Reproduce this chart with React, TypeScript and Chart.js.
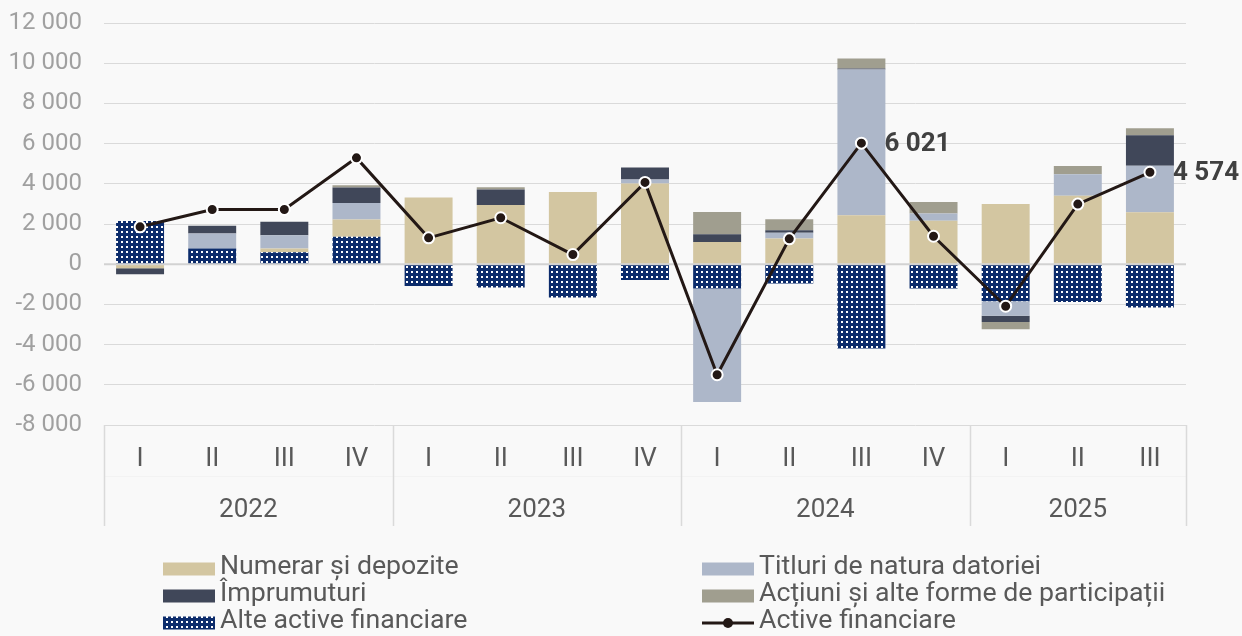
import React, { useEffect, useRef } from "react";
import { Chart, registerables } from "chart.js";

Chart.register(...registerables);

// ---- data ----
const quarters = ["I", "II", "III", "IV", "I", "II", "III", "IV", "I", "II", "III", "IV", "I", "II", "III"];
const years = ["2022", "2023", "2024", "2025"];
const quartersPerYear = [4, 4, 4, 3];

const alteActive = [2150, 780, 600, 1360, -1080, -1160, -1660, -780, -1210, -960, -4200, -1210, -1840, -1880, -2160];
const numerar = [-200, 0, 180, 860, 3320, 2940, 3590, 4020, 1110, 1280, 2440, 2160, 2990, 3400, 2590];
const titluri = [0, 750, 665, 830, 0, 0, 0, 200, -5650, 280, 7250, 360, -730, 1080, 2310];
const imprumuturi = [-300, 380, 665, 770, 0, 780, 0, 590, 380, 130, 50, 0, -300, 0, 1520];
const actiuni = [0, 0, 0, 110, 0, 110, 0, 0, 1110, 550, 500, 580, -370, 400, 340];
const activeFinanciare = [1860, 2720, 2720, 5290, 1310, 2310, 480, 4070, -5500, 1260, 6021, 1390, -2090, 2990, 4574];

const labeledPoints = [10, 14];
const yMin = -8000;
const yMax = 12000;
const yStep = 2000;

const seriesNames = {
  numerar: "Numerar și depozite",
  titluri: "Titluri de natura datoriei",
  imprumuturi: "Împrumuturi",
  actiuni: "Acțiuni și alte forme de participații",
  alte: "Alte active financiare",
  active: "Active financiare",
};
const legendOrder = [
  seriesNames.numerar,
  seriesNames.titluri,
  seriesNames.imprumuturi,
  seriesNames.actiuni,
  seriesNames.alte,
  seriesNames.active,
];

// ---- styles ----
const BG = "#f9f9f9";
const FONT = "Roboto, 'Noto Sans', sans-serif";
const C_NUMERAR = "#d3c6a1";
const C_TITLURI = "#adb7c9";
const C_IMPR = "#404759";
const C_ACT = "#a09e8f";
const C_NAVY = "#0c2c6c";
const C_LINE = "#231815";
const GRID = "#dadada";

const fmt = (v: number) => {
  const s = Math.abs(Math.round(v)).toString().replace(/\B(?=(\d{3})+(?!\d))/g, " ");
  return (v < 0 ? "-" : "") + s;
};

function makePattern(): CanvasPattern | string {
  const c = document.createElement("canvas");
  c.width = 5;
  c.height = 5;
  const g = c.getContext("2d");
  if (!g) return C_NAVY;
  g.fillStyle = C_NAVY;
  g.fillRect(0, 0, 5, 5);
  g.fillStyle = "#ffffff";
  g.fillRect(1, 1, 2, 2);
  const p = g.createPattern(c, "repeat");
  return p || C_NAVY;
}

export default function App() {
  const ref = useRef<HTMLCanvasElement | null>(null);

  useEffect(() => {
    if (!ref.current) return;
    const pattern = makePattern();

    const bgPlugin = {
      id: "bg",
      beforeDraw(chart: any) {
        const ctx = chart.ctx;
        ctx.save();
        ctx.fillStyle = BG;
        ctx.fillRect(0, 0, chart.width, chart.height);
        ctx.restore();
      },
    };

    const zeroLinePlugin = {
      id: "zeroLine",
      beforeDatasetDraw(chart: any, args: any) {
        if (chart.data.datasets[args.index].type !== "line") return;
        const y = chart.scales.y.getPixelForValue(0);
        const ctx = chart.ctx;
        ctx.save();
        ctx.strokeStyle = "#d2d2d2";
        ctx.lineWidth = 2;
        ctx.beginPath();
        ctx.moveTo(chart.chartArea.left, y);
        ctx.lineTo(chart.chartArea.right, y);
        ctx.stroke();
        ctx.restore();
      },
    };

    const labelsPlugin = {
      id: "valueLabels",
      afterDatasetsDraw(chart: any) {
        const idx = chart.data.datasets.findIndex((d: any) => d.type === "line");
        const meta = chart.getDatasetMeta(idx);
        const ctx = chart.ctx;
        ctx.save();
        ctx.font = `bold 26px ${FONT}`;
        ctx.fillStyle = "#404040";
        ctx.textAlign = "left";
        ctx.textBaseline = "middle";
        labeledPoints.forEach((i) => {
          const pt = meta.data[i];
          ctx.fillText(fmt(activeFinanciare[i]), pt.x + 23, pt.y + 1);
        });
        ctx.restore();
      },
    };

    const xAxisPlugin = {
      id: "xAxisBox",
      afterDraw(chart: any) {
        const ctx = chart.ctx;
        const xs = chart.scales.x;
        const area = chart.chartArea;
        const top = area.bottom;
        const bottom = 526;
        ctx.save();
        // faint row separator
        ctx.strokeStyle = "#f3f3f3";
        ctx.lineWidth = 1;
        ctx.beginPath();
        ctx.moveTo(area.left, 476.5);
        ctx.lineTo(area.right, 476.5);
        ctx.stroke();
        // vertical separators
        ctx.strokeStyle = GRID;
        ctx.lineWidth = 1.5;
        const bounds: number[] = [area.left];
        let k = 0;
        quartersPerYear.forEach((n) => {
          k += n;
          if (k < quarters.length) {
            bounds.push((xs.getPixelForValue(k - 1) + xs.getPixelForValue(k)) / 2);
          }
        });
        bounds.push(area.right);
        bounds.forEach((bx) => {
          ctx.beginPath();
          ctx.moveTo(Math.round(bx) + 0.5, top);
          ctx.lineTo(Math.round(bx) + 0.5, bottom);
          ctx.stroke();
        });
        // labels
        ctx.fillStyle = "#595959";
        ctx.font = `26px ${FONT}`;
        ctx.textAlign = "center";
        ctx.textBaseline = "middle";
        quarters.forEach((q, i) => {
          ctx.fillText(q, xs.getPixelForValue(i), 459);
        });
        let start = 0;
        quartersPerYear.forEach((n, j) => {
          const cx = (xs.getPixelForValue(start) + xs.getPixelForValue(start + n - 1)) / 2;
          ctx.fillText(years[j], cx, 510);
          start += n;
        });
        ctx.restore();
      },
    };

    const legendPlugin = {
      id: "customLegend",
      afterDraw(chart: any) {
        const ctx = chart.ctx;
        const colX = [163, 702];
        const rowY = [567, 594, 621];
        ctx.save();
        ctx.font = `26.7px ${FONT}`;
        ctx.textBaseline = "middle";
        ctx.textAlign = "left";
        legendOrder.forEach((name, i) => {
          const ds = chart.data.datasets.find((d: any) => d.label === name);
          const x = colX[i % 2];
          const y = rowY[Math.floor(i / 2)];
          if (ds.type === "line") {
            ctx.strokeStyle = ds.borderColor;
            ctx.lineWidth = 3;
            ctx.beginPath();
            ctx.moveTo(x, y + 2);
            ctx.lineTo(x + 52, y + 2);
            ctx.stroke();
            ctx.fillStyle = ds.pointBackgroundColor;
            ctx.beginPath();
            ctx.arc(x + 26, y + 2, 5, 0, Math.PI * 2);
            ctx.fill();
          } else {
            ctx.fillStyle = ds.backgroundColor;
            ctx.fillRect(x, y - 4.5, 52, 13);
          }
          ctx.fillStyle = "#595959";
          ctx.fillText(name, x + 57, y);
        });
        ctx.restore();
      },
    };

    const chart = new Chart(ref.current, {
      type: "bar",
      data: {
        labels: quarters,
        datasets: [
          {
            type: "line",
            label: seriesNames.active,
            data: activeFinanciare,
            borderColor: C_LINE,
            backgroundColor: C_LINE,
            borderWidth: 3,
            pointRadius: 5.5,
            pointBorderWidth: 2,
            pointBackgroundColor: C_LINE,
            pointBorderColor: "#ffffff",
            order: 0,
            tension: 0,
          } as any,
          { type: "bar", label: seriesNames.alte, data: alteActive, backgroundColor: pattern as any, order: 1 },
          { type: "bar", label: seriesNames.numerar, data: numerar, backgroundColor: C_NUMERAR, order: 1 },
          { type: "bar", label: seriesNames.titluri, data: titluri, backgroundColor: C_TITLURI, order: 1 },
          { type: "bar", label: seriesNames.imprumuturi, data: imprumuturi, backgroundColor: C_IMPR, order: 1 },
          { type: "bar", label: seriesNames.actiuni, data: actiuni, backgroundColor: C_ACT, order: 1 },
        ],
      },
      options: {
        responsive: false,
        animation: false,
        layout: { padding: { left: 0, right: 56, top: 23, bottom: 211 } },
        datasets: {
          bar: { categoryPercentage: 1, barPercentage: 0.665, borderWidth: 0, stack: "s" } as any,
        },
        plugins: {
          legend: { display: false },
          tooltip: { enabled: false },
        },
        scales: {
          x: {
            display: false,
            stacked: true,
          },
          y: {
            stacked: true,
            min: yMin,
            max: yMax,
            afterFit(scale: any) {
              scale.width = 104;
            },
            border: { display: false },
            grid: {
              color: GRID,
              lineWidth: 1,
              drawTicks: true,
              tickLength: 22,
              tickColor: "rgba(0,0,0,0)",
            },
            ticks: {
              stepSize: yStep,
              padding: 0,
              color: "#a0a0a0",
              font: { family: FONT, size: 24 },
              callback: (v: any) => fmt(Number(v)),
            },
          },
        },
      },
      plugins: [bgPlugin, zeroLinePlugin, labelsPlugin, xAxisPlugin, legendPlugin],
    });

    return () => chart.destroy();
  }, []);

  return (
    <div style={{ position: "fixed", left: 0, top: 0, width: 1242, height: 636, background: BG }}>
      <canvas ref={ref} width={1242} height={636} style={{ display: "block" }} />
    </div>
  );
}
